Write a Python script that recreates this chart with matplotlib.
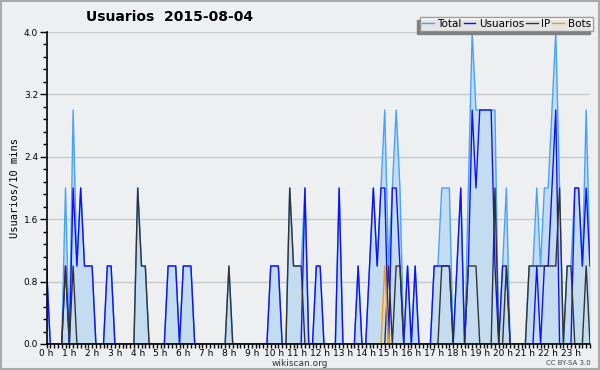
import numpy as np
import matplotlib.pyplot as plt
from matplotlib.patches import Rectangle
from matplotlib.ticker import MultipleLocator

# 144 slots of 10 minutes, 2015-08-04
usuarios = [1, 0, 0, 0, 0, 1, 0, 2, 1, 2, 1, 1, 1, 0, 0, 0, 1, 1, 0, 0, 0, 0, 0, 0,
            0, 0, 0, 0, 0, 0, 0, 0, 1, 1, 1, 0, 1, 1, 1, 0, 0, 0, 0, 0, 0, 0, 0, 0,
            0, 0, 0, 0, 0, 0, 0, 0, 0, 0, 0, 1, 1, 1, 0, 0, 0, 0, 0, 0, 2, 0, 0, 1,
            1, 0, 0, 0, 0, 2, 0, 0, 0, 0, 1, 0, 0, 1, 2, 1, 2, 2, 0, 2, 2, 1, 0, 1,
            0, 1, 0, 0, 0, 0, 1, 1, 1, 1, 1, 0, 1, 2, 0, 1, 3, 2, 3, 3, 3, 3, 1, 0,
            1, 1, 0, 0, 0, 0, 0, 0, 0, 1, 0, 1, 1, 2, 3, 0, 0, 0, 0, 2, 2, 1, 2, 1]
ip = [0, 0, 0, 0, 0, 1, 0, 1, 0, 0, 0, 0, 0, 0, 0, 0, 0, 0, 0, 0, 0, 0, 0, 0,
      2, 1, 1, 0, 0, 0, 0, 0, 0, 0, 0, 0, 0, 0, 0, 0, 0, 0, 0, 0, 0, 0, 0, 0,
      1, 0, 0, 0, 0, 0, 0, 0, 0, 0, 0, 0, 0, 0, 0, 0, 2, 1, 1, 1, 0, 0, 0, 0,
      0, 0, 0, 0, 0, 0, 0, 0, 0, 0, 0, 0, 0, 0, 0, 0, 0, 0, 1, 0, 1, 1, 0, 0,
      0, 0, 0, 0, 0, 0, 0, 0, 1, 1, 1, 0, 0, 0, 0, 1, 1, 1, 0, 0, 0, 0, 2, 0,
      0, 1, 0, 0, 0, 0, 0, 1, 1, 1, 1, 1, 1, 1, 1, 2, 0, 1, 1, 0, 0, 0, 1, 0]
bots = [0] * 144
bots[89] = 1

hours = ["%d h" % h for h in range(24)]

usuarios = np.array(usuarios)
ip = np.array(ip)
bots = np.array(bots)
total = usuarios + ip + bots
t = np.arange(len(total)) / 6.0

bg = '#eeeff1'
fig = plt.figure(figsize=(6, 3.7), dpi=100, facecolor=bg)
ax = fig.add_axes([0.0775, 0.0703, 0.9058, 0.8432], facecolor=bg)

ax.fill_between(t, total, color='#c4dcf0', lw=0)
l1, = ax.plot(t, total, color='#45a3ff', lw=1.0, label='Total')
l2, = ax.plot(t, usuarios, color='#1010ff', lw=1.0, label='Usuarios')
l3, = ax.plot(t, ip, color='#333333', lw=1.0, label='IP')
l4, = ax.plot(t, bots, color='#ff9900', lw=1.0, label='Bots')

ax.set_xlim(0, 143 / 6.0)
ax.set_ylim(0, 4.0)
ax.set_yticks(np.arange(0, 4.01, 0.8))
ax.set_yticklabels(["%.1f" % v for v in np.arange(0, 4.01, 0.8)], fontsize=6.5)
ax.yaxis.set_minor_locator(MultipleLocator(0.16))
ax.set_xticks(range(24))
ax.set_xticklabels(hours, fontsize=6.5)
ax.xaxis.set_minor_locator(MultipleLocator(1 / 6.0))
ax.tick_params(axis='y', which='major', length=5, width=1, pad=1)
ax.tick_params(axis='y', which='minor', length=3, width=1)
ax.tick_params(axis='x', which='both', length=3, width=1, pad=0.5)
ax.grid(axis='y', color='#c8c8c8', lw=1)
ax.set_axisbelow(True)
for s in ['top', 'right']:
    ax.spines[s].set_visible(False)
for s in ['left', 'bottom']:
    ax.spines[s].set_linewidth(1.2)

ax.set_ylabel('Usuarios/10 mins', family='DejaVu Sans Mono', fontsize=7.5, labelpad=3)
fig.text(0.283, 0.953, 'Usuarios  2015-08-04', fontsize=10, weight='bold', ha='center', va='center')
fig.text(0.5, 0.018, 'wikiscan.org', fontsize=6.5, color='#333333', ha='center', va='center')
fig.text(0.985, 0.018, 'CC BY-SA 3.0', fontsize=5, color='#444444', ha='right', va='center')

leg = fig.legend(handles=[l1, l2, l3, l4], loc='upper right', bbox_to_anchor=(0.988, 0.955),
                 ncol=4, fontsize=7.5, frameon=True, fancybox=False, shadow=False,
                 handlelength=1.1, handletextpad=0.35, columnspacing=0.2,
                 borderpad=0.2, borderaxespad=0)
leg.get_frame().set_edgecolor('#888888')
leg.get_frame().set_facecolor('white')
leg.get_frame().set_linewidth(1)
# drop shadow under the legend
fig.canvas.draw()
bb = leg.get_window_extent().transformed(fig.transFigure.inverted())
fig.patches.append(Rectangle((bb.x0 - 0.005, bb.y0 - 0.008), bb.width, bb.height,
                             transform=fig.transFigure, color='#808080', zorder=0))
leg.set_zorder(5)

fig.patches.append(Rectangle((0.001, 0.002), 0.997, 0.995, transform=fig.transFigure,
                             fill=False, edgecolor='#aaaaaa', lw=1.5))

fig.savefig('out.png', dpi=100, facecolor=bg)
